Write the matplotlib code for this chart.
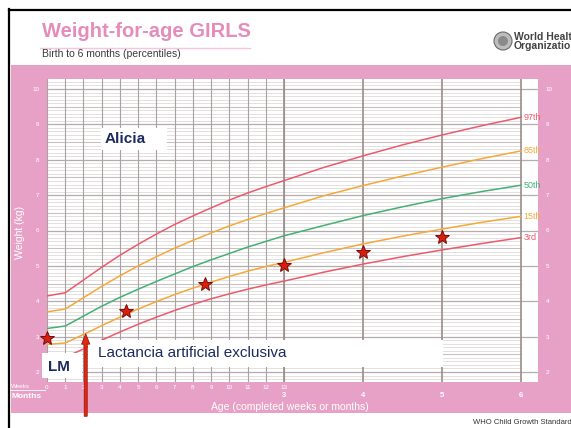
import numpy as np
import matplotlib
matplotlib.use('Agg')
import matplotlib.pyplot as plt
from matplotlib.patches import Rectangle, Circle

plt.rcParams['font.family'] = ['Liberation Sans', 'DejaVu Sans']

# Data: WHO girls weight-for-age, birth to 6 months (x in months)
weeks = list(range(0, 14))
age = [w * 3 / 13 for w in weeks] + [3.5, 4, 4.5, 5, 5.5, 6]
p3 = [2.40, 2.42, 2.65, 2.90, 3.13, 3.35, 3.55, 3.74, 3.91, 4.07, 4.21, 4.34, 4.46, 4.57,
      4.82, 5.05, 5.26, 5.45, 5.63, 5.80]
p15 = [2.78, 2.82, 3.06, 3.31, 3.55, 3.78, 3.99, 4.19, 4.37, 4.54, 4.70, 4.85, 4.98, 5.10,
       5.37, 5.62, 5.84, 6.04, 6.23, 6.40]
p50 = [3.23, 3.30, 3.58, 3.86, 4.11, 4.34, 4.56, 4.77, 4.98, 5.17, 5.35, 5.53, 5.69, 5.85,
       6.14, 6.42, 6.67, 6.90, 7.10, 7.28]
p85 = [3.70, 3.78, 4.10, 4.42, 4.72, 5.00, 5.26, 5.50, 5.72, 5.93, 6.13, 6.31, 6.48, 6.64,
       6.98, 7.27, 7.54, 7.79, 8.03, 8.25]
p97 = [4.15, 4.24, 4.60, 4.96, 5.30, 5.61, 5.90, 6.17, 6.41, 6.64, 6.86, 7.06, 7.24, 7.41,
       7.78, 8.11, 8.42, 8.70, 8.96, 9.20]
curve_labels = ['97th', '85th', '50th', '15th', '3rd']

# Alicia's measurements
star_months = [0, 1, 2, 3, 4, 5]
star_weight = [2.95, 3.72, 4.5, 5.02, 5.38, 5.83]

month_ticks = [3, 4, 5, 6]
kg_ticks = list(range(2, 11))
arrow_month = 0.49
arrow_tip = 3.16

pink = '#E8A1C6'
red = '#EA5B6E'
orange = '#F4A83A'
green = '#44B074'
navy = '#1C2A5E'

fig = plt.figure(figsize=(5.71, 4.28), dpi=100)

# background in pixel coords
bg = fig.add_axes([0, 0, 1, 1], zorder=0)
bg.set_xlim(0, 571)
bg.set_ylim(428, 0)
bg.axis('off')
bg.add_patch(Rectangle((11, 65), 560, 348, color=pink, lw=0))
bg.plot([9, 9], [9, 428], color='black', lw=1.6)
bg.plot([9, 571], [9.5, 9.5], color='black', lw=1.6)
bg.plot([40, 250], [47.5, 47.5], color='#F2C6DC', lw=1.0)
bg.text(42, 31, 'Weight-for-age GIRLS', color='#E58CBB', fontsize=14.5,
        fontweight='bold', va='center', ha='left')
bg.text(42, 54, 'Birth to 6 months (percentiles)', color='#3a3a3a', fontsize=7.5,
        va='center', ha='left')
bg.add_patch(Circle((503, 41), 9, facecolor='#bdbdbd', edgecolor='#6a6a6a', lw=0.8))
bg.add_patch(Circle((503, 41), 5, facecolor='#8a8a8a', edgecolor='none'))
bg.text(514, 37, 'World Health', fontsize=7.5, fontweight='bold', color='#444444',
        va='center', ha='left')
bg.text(514, 46, 'Organization', fontsize=7.5, fontweight='bold', color='#444444',
        va='center', ha='left')
bg.text(473, 423, 'WHO Child Growth Standards', fontsize=5.5, color='#333333',
        va='center', ha='left')
bg.text(20, 232, 'Weight (kg)', rotation=90, color='white', fontsize=7.5,
        va='center', ha='center')
bg.text(290, 407, 'Age (completed weeks or months)', color='white', fontsize=7.5,
        va='center', ha='center')
bg.text(11, 386, 'Weeks', color='white', fontsize=4.5, va='center', ha='left')
bg.plot([11, 45], [389.5, 389.5], color='white', lw=0.6)
bg.text(11, 396, 'Months', color='white', fontsize=6, fontweight='bold',
        va='center', ha='left')

# main chart
ax = fig.add_axes([47 / 571, (428 - 382) / 428, 491 / 571, 303 / 428], zorder=1)
ax.set_facecolor('white')
x_right = 6 * 491 / 474
ax.set_xlim(0, x_right)
ax.set_ylim(2 - 10 / 35.375, 2 + 293 / 35.375)
for s in ax.spines.values():
    s.set_visible(False)

# horizontal grid
for v in np.arange(18, 103):
    y = v / 10
    if v % 10 == 0:
        ax.plot([0, x_right], [y, y], color='#b5adad', lw=0.9, zorder=1)
    elif v % 5 == 0:
        ax.plot([0, 6], [y, y], color='#c9c1c1', lw=0.8, zorder=1)
    else:
        ax.plot([0, 6], [y, y], color='#e0dada', lw=0.6, zorder=1)
# vertical grid
for w in weeks:
    ax.axvline(w * 3 / 13, color='#aaa2a2', lw=0.8, zorder=1)
for m in month_ticks:
    ax.axvline(m, color='#9a8c88', lw=1.2, zorder=1)

for vals, col, lab in zip([p97, p85, p50, p15, p3],
                          [red, orange, green, orange, red], curve_labels):
    ax.plot(age, vals, color=col, lw=1.1, zorder=3)
    ax.text(6.03, vals[-1], lab, color=col, fontsize=6.5, va='center', ha='left',
            zorder=3)

ax.plot(star_months, star_weight, linestyle='none', marker='*', markersize=10,
        markerfacecolor='#D91E0F', markeredgecolor='#7A0A05', markeredgewidth=0.7,
        zorder=5, clip_on=False)

ax.set_yticks(kg_ticks)
ax.set_yticklabels([str(k) for k in kg_ticks])
ax.tick_params(axis='y', length=0, labelsize=4.5, labelcolor='white', pad=5.5,
               labelleft=True, labelright=True)
ax.set_xticks([w * 3 / 13 for w in weeks])
ax.set_xticklabels([str(w) for w in weeks])
ax.tick_params(axis='x', length=0, labelsize=4.5, labelcolor='white', pad=2)
for m in month_ticks:
    ax.annotate(str(m), xy=(m, 0), xycoords=('data', 'axes fraction'),
                xytext=(0, -9.5), textcoords='offset points', ha='center',
                va='center', color='white', fontsize=5.5, fontweight='bold')

# annotation boxes
ax.add_patch(Rectangle((0.68, 8.28), 0.84, 0.62, facecolor='white', edgecolor='none',
                       zorder=6, clip_on=False))
ax.text(0.73, 8.59, 'Alicia', color=navy, fontsize=11, fontweight='bold',
        va='center', ha='left', zorder=7)
ax.add_patch(Rectangle((0.52, 2.14), 4.49, 0.77, facecolor='white', edgecolor='none',
                       zorder=6, clip_on=False))
ax.text(0.645, 2.54, 'Lactancia artificial exclusiva', color=navy, fontsize=11,
        va='center', ha='left', zorder=7)
ax.add_patch(Rectangle((-0.063, 1.83), 0.506, 0.71, facecolor='white', edgecolor='none',
                       zorder=6, clip_on=False))
ax.text(0.01, 2.15, 'LM', color=navy, fontsize=11, fontweight='bold',
        va='center', ha='left', zorder=7, clip_on=False)

ax.annotate('', xy=(arrow_month, arrow_tip), xytext=(arrow_month, 0.67),
            annotation_clip=False, zorder=8,
            arrowprops=dict(arrowstyle='simple,head_length=0.75,head_width=0.6,tail_width=0.22',
                            mutation_scale=10, facecolor='#E8250F', edgecolor='#8A1005',
                            lw=0.5))

fig.savefig('out.png', dpi=100)
